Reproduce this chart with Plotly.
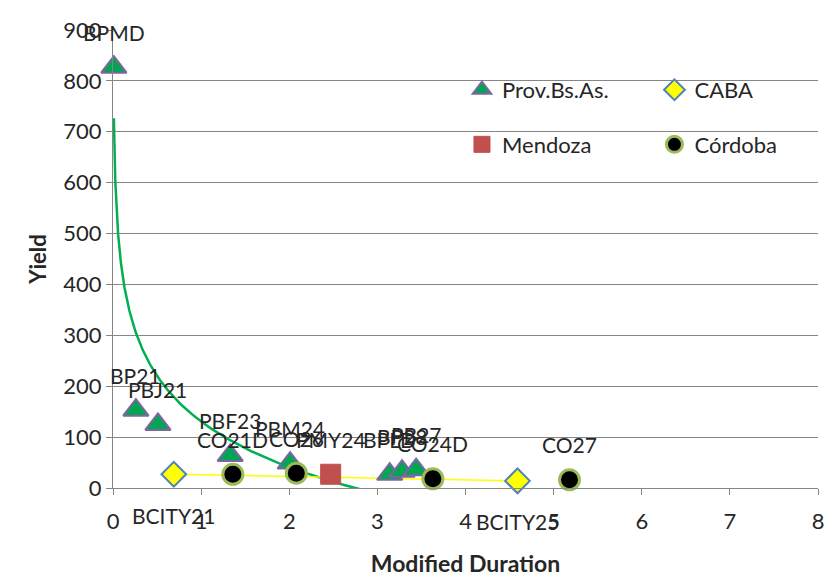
import numpy as np
import plotly.graph_objects as go

# ---- data ----
prov_names = ["BPMD", "BP21", "PBJ21", "PBF23", "PBM24", "BPLD", "BP28", "PB27"]
prov_x = [0.01, 0.26, 0.51, 1.33, 2.01, 3.14, 3.28, 3.44]
prov_y = [827, 153, 125, 64, 49, 27, 33, 36]

caba_names = ["BCITY21", "BCITY25"]
caba_x = [0.69, 4.59]
caba_y = [27, 14]

mza_names = ["PMY24"]
mza_x = [2.47]
mza_y = [27]

cba_names = ["CO21D", "CO26", "CO24D", "CO27"]
cba_x = [1.36, 2.08, 3.63, 5.18]
cba_y = [27, 29, 18, 16]

x_ticks = [0, 1, 2, 3, 4, 5, 6, 7, 8]
y_ticks = [0, 100, 200, 300, 400, 500, 600, 700, 800, 900]

FONT = "Lato"
TXT = "#262626"

fig = go.Figure()

# logarithmic trendline for Prov.Bs.As. (fit on the data)
lx = np.log(np.array(prov_x))
b, a = np.polyfit(lx, np.array(prov_y), 1)
tx = np.geomspace(min(prov_x), max(prov_x), 400)
fig.add_trace(go.Scatter(x=tx, y=a + b * np.log(tx), mode="lines",
                         line=dict(color="#00B050", width=2.5),
                         showlegend=False, hoverinfo="skip"))

# linear trendline for CABA
cb, ca = np.polyfit(np.array(caba_x), np.array(caba_y), 1)
cx = np.array([min(caba_x), max(caba_x)])
fig.add_trace(go.Scatter(x=cx, y=ca + cb * cx, mode="lines",
                         line=dict(color="#FFFF00", width=1.5),
                         showlegend=False, hoverinfo="skip"))

fig.add_trace(go.Scatter(x=prov_x, y=prov_y, mode="markers", name="Prov.Bs.As.",
                         marker=dict(symbol="triangle-up", size=22, color="#00A651",
                                     line=dict(color="#8064A2", width=2)),
                         legend="legend", legendgroup="a", cliponaxis=False))
fig.add_trace(go.Scatter(x=mza_x, y=mza_y, mode="markers", name="Mendoza",
                         marker=dict(symbol="square", size=20, color="#C0504D",
                                     line=dict(color="#C0504D", width=1)),
                         legend="legend", legendgroup="b", cliponaxis=False))
fig.add_trace(go.Scatter(x=caba_x, y=caba_y, mode="markers", name="CABA",
                         marker=dict(symbol="diamond", size=19, color="#FFFF00",
                                     line=dict(color="#4F81BD", width=2)),
                         legend="legend2", legendgroup="c", cliponaxis=False))
fig.add_trace(go.Scatter(x=cba_x, y=cba_y, mode="markers", name="Córdoba",
                         marker=dict(symbol="circle", size=20, color="#000000",
                                     line=dict(color="#9BBB59", width=3)),
                         legend="legend2", legendgroup="d", cliponaxis=False))

ann = []
def add_labels(names, xs, ys, shift):
    for n, x, y in zip(names, xs, ys):
        ann.append(dict(x=x, y=y, text=n, showarrow=False, yshift=shift,
                        font=dict(family=FONT, size=21, color=TXT)))

add_labels(prov_names, prov_x, prov_y, 35)
add_labels(mza_names, mza_x, mza_y, 35)
add_labels(cba_names, cba_x, cba_y, 35)
add_labels(caba_names, caba_x, caba_y, -41)

axis_common = dict(showline=True, linecolor="#868686", linewidth=1,
                   ticks="outside", ticklen=6, tickcolor="#868686",
                   tickfont=dict(family=FONT, size=22, color=TXT),
                   zeroline=False)

fig.update_layout(
    width=836, height=585,
    margin=dict(l=113, r=16, t=30, b=96),
    paper_bgcolor="white", plot_bgcolor="white",
    annotations=ann,
    xaxis=dict(range=[0, 8], tickvals=x_ticks, showgrid=False,
               ticklabelstandoff=8,
               title=dict(text="<b>Modified Duration</b>", standoff=22,
                          font=dict(family=FONT, size=23, color=TXT)),
               **axis_common),
    yaxis=dict(range=[0, 900], tickvals=y_ticks, showgrid=True,
               gridcolor="#868686", gridwidth=1,
               title=dict(text="<b>Yield</b>", standoff=10,
                          font=dict(family=FONT, size=22, color=TXT)),
               **axis_common),
    legend=dict(x=0.495, y=0.915, xanchor="left", yanchor="top",
                bgcolor="rgba(0,0,0,0)", itemwidth=30, tracegroupgap=23,
                font=dict(family=FONT, size=22, color=TXT)),
    legend2=dict(x=0.768, y=0.915, xanchor="left", yanchor="top",
                 bgcolor="rgba(0,0,0,0)", itemwidth=30, tracegroupgap=23,
                 font=dict(family=FONT, size=22, color=TXT)),
    showlegend=True,
)

fig.write_html("out.html")
